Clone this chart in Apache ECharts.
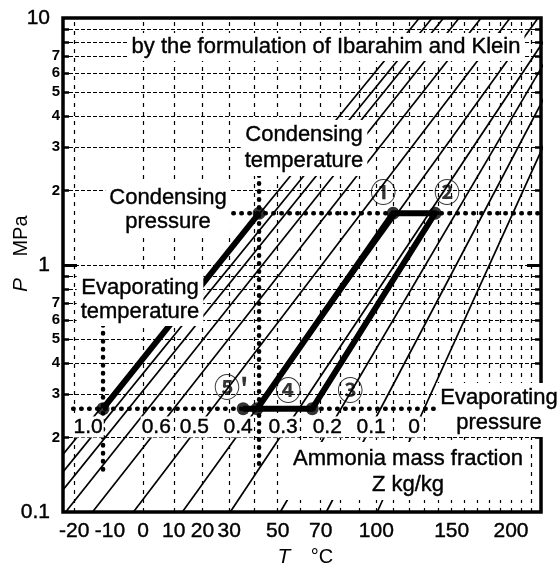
<!DOCTYPE html>
<html><head><meta charset="utf-8">
<script src="https://cdn.jsdelivr.net/npm/echarts@6/dist/echarts.min.js"></script>
<style>html,body{margin:0;padding:0;background:#fff}#c{width:560px;height:569px}</style>
</head><body><div id="c"></div>
<script>
// ---------- data ----------
const zFractions   = [1.0, 0.9, 0.8, 0.7, 0.6, 0.5, 0.4, 0.3, 0.2, 0.1, 0];
const zTempAtLowP  = [-34.8, -31.3, -27.6, -22.3, -15.0, -3.0, 12.9, 30.4, 51.1, 72.8, 100.5]; // °C at 0.1 MPa
const zTempAtHighP = [127.0, 135.8, 144.0, 155.7, 173.4, 199.1, 226.9, 250.0, 263.7, 283.0, 303.9]; // °C at 10 MPa
const isostereLowP = 0.1, isostereHighP = 10;

const zLabelText  = ['1.0', '0.6', '0.5', '0.4', '0.3', '0.2', '0.1', '0'];
const zLabelTemps = [-16.2, 4.2, 17.1, 33.5, 52.4, 73.3, 97.0, 123.5];
const zLabelP = 0.221;

const tempTickLabels = [-20, -10, 0, 10, 20, 30, 50, 70, 100, 150, 200];
const tempGridLines  = [-20, 0, 10, 20, 30, 40, 50, 60, 70, 80, 90, 100, 110, 120, 130, 140, 150, 160, 170, 180, 190, 200, 210, 220];
const pressureLabels = [0.1, 0.2, 0.3, 0.4, 0.5, 0.6, 0.7, 1, 2, 3, 4, 5, 6, 7, 10];
const pressureMinor  = [0.2, 0.3, 0.4, 0.5, 0.6, 0.7, 0.8, 0.9, 2, 3, 4, 5, 6, 7, 8, 9];
const pressureGrid   = [0.2, 0.3, 0.4, 0.5, 0.6, 0.7, 0.8, 0.9, 1, 2, 3, 4, 5, 6, 7, 8, 9];

const evapT = -12, condT = 42, evapP = 0.262, condP = 1.62;
const cycleNames = ["⑤'", '④', '③', '①', '②'];
const cycleT     = [35.5, 41.2, 65.9, 110.1, 137.9];
const cycleP     = [evapP, evapP, evapP, condP, condP];

const condPressureSpanT = [31.6, 230];
const evapPressureSpanT = [-20.3, 139.3];
const condTempSpanP     = [2.31, 0.148];
const evapTempSpanP     = [0.571, 0.148];

const tMin = -23, tMax = 230;

// ---------- helpers ----------
const xOf = t => -1000 / (t + 273.15);
const FONT = '"Liberation Sans", Arial, sans-serif';
const xMin = xOf(tMin), xMax = xOf(tMax);
const INK = { textBorderColor: '#000', textBorderWidth: 0.4 };

const series = [];
series.push({
  type: 'lines', coordinateSystem: 'cartesian2d', silent: true, z: 1,
  lineStyle: { color: '#000', width: 1.2, type: [4, 5], opacity: 1 },
  data: tempGridLines.map(t => ({ coords: [[xOf(t), 0.1], [xOf(t), 10]] }))
});
series.push({
  type: 'lines', coordinateSystem: 'cartesian2d', silent: true, z: 1,
  lineStyle: { color: '#000', width: 1.2, type: [4, 2], opacity: 1 },
  data: pressureGrid.map(p => ({ coords: [[xMin, p], [xMax, p]] }))
});
zFractions.forEach((z, i) => {
  series.push({
    type: 'line', silent: true, z: 3, symbol: 'none', clip: true, animation: false,
    lineStyle: { color: '#000', width: 1.7 },
    data: [[xOf(zTempAtLowP[i]), isostereLowP], [xOf(zTempAtHighP[i]), isostereHighP]]
  });
});
const dotted = { color: '#000', width: 4.5, type: [0.5, 7.5], cap: 'round' };
series.push({ type: 'line', symbol: 'none', z: 4, silent: true, lineStyle: dotted,
  data: condPressureSpanT.map(t => [xOf(t), condP]) });
series.push({ type: 'line', symbol: 'none', z: 4, silent: true, lineStyle: dotted,
  data: evapPressureSpanT.map(t => [xOf(t), evapP]) });
series.push({ type: 'line', symbol: 'none', z: 4, silent: true, lineStyle: dotted,
  data: condTempSpanP.map(p => [xOf(condT), p]) });
series.push({ type: 'line', symbol: 'none', z: 4, silent: true, lineStyle: dotted,
  data: evapTempSpanP.map(p => [xOf(evapT), p]) });
// refrigerant (thick)
series.push({ type: 'line', symbol: 'none', z: 5, silent: true,
  lineStyle: { color: '#000', width: 6 },
  data: [[xOf(evapT), evapP], [xOf(condT), condP]] });
// solution cycle (thick): ④ → ① → ② → ③ → ⑤'
const cycleOrder = [1, 3, 4, 2, 0];
series.push({ type: 'line', symbol: 'none', z: 5, silent: true,
  lineStyle: { color: '#000', width: 6, join: 'round' },
  data: cycleOrder.map(k => [xOf(cycleT[k]), cycleP[k]]) });
// state points
const cycleOffsets = [[-12, -22], [31, -19], [38, -19], [-10, -21], [12, -21]];
series.push({ type: 'scatter', z: 6, silent: true, symbolSize: 13,
  itemStyle: { color: '#000' },
  data: [
    { value: [xOf(evapT), evapP] },
    { value: [xOf(condT), condP] },
    ...cycleT.map((t, k) => ({
      value: [xOf(t), cycleP[k]],
      label: { show: true, position: 'inside', offset: cycleOffsets[k], formatter: cycleNames[k],
        fontFamily: '"Noto Sans CJK JP", sans-serif', fontWeight: 'bold', fontSize: 26, color: '#000' }
    }))
  ] });
// Z labels
series.push({ type: 'scatter', z: 8, silent: true, symbol: 'circle', symbolSize: 2,
  itemStyle: { color: 'rgba(255,255,255,0)' },
  labelLayout: { hideOverlap: false },
  data: zLabelTemps.map((t, k) => ({ value: [xOf(t), zLabelP],
    label: Object.assign({ show: true, position: 'inside', formatter: zLabelText[k], fontFamily: FONT, fontSize: 21,
      color: '#000', backgroundColor: '#fff', padding: [0, 1], opacity: 1 }, INK) })) });

function pLabel(v) {
  if (Math.abs(v - 0.1) < 1e-9 || Math.abs(v - 1) < 1e-9 || Math.abs(v - 10) < 1e-9) {
    return '{b|' + (v < 1 ? '0.1' : String(Math.round(v))) + '}';
  }
  const d = Math.round(v / Math.pow(10, Math.floor(Math.log10(v) + 1e-9)));
  return '{s|' + d + '}';
}

const ann = (text, x, y, lh, bg) => ({
  type: 'text', x, y, z: 60, silent: true,
  style: { text, font: '22px ' + FONT, fill: '#000', stroke: '#000', lineWidth: 0.4,
    align: 'center', verticalAlign: 'middle',
    textAlign: 'center', textVerticalAlign: 'middle', lineHeight: lh,
    backgroundColor: bg ? '#fff' : null, padding: bg ? [2, 4] : 0 }
});

const chart = echarts.init(document.getElementById('c'), null, { renderer: 'canvas' });
chart.setOption({
  animation: false,
  backgroundColor: '#fff',
  grid: { left: 63, top: 18, width: 478, height: 494, show: true, borderColor: '#000', borderWidth: 3.5,
    backgroundColor: 'transparent', containLabel: false },
  xAxis: {
    type: 'value', min: xMin, max: xMax,
    axisLine: { show: false }, axisTick: { show: false }, splitLine: { show: false },
    axisLabel: Object.assign({ customValues: tempTickLabels.map(xOf), hideOverlap: false,
      formatter: v => String(Math.round(-1000 / v - 273.15)),
      fontFamily: FONT, fontSize: 21, color: '#000', margin: 9 }, INK)
  },
  yAxis: [
    { type: 'log', logBase: 10, min: 0.1, max: 10, position: 'left',
      axisLine: { show: false }, splitLine: { show: false }, minorSplitLine: { show: false },
      axisTick: { show: true, inside: true, customValues: pressureMinor, length: 6, lineStyle: { color: '#000', width: 2.5 } },
      axisLabel: { customValues: pressureLabels, formatter: pLabel, margin: 3, hideOverlap: false,
        rich: { b: Object.assign({ fontFamily: FONT, fontSize: 21, color: '#000', padding: [0, 10, 0, 0] }, INK),
                s: { fontFamily: FONT, fontSize: 15, fontWeight: 'bold', color: '#000' } } } },
    { type: 'log', logBase: 10, min: 0.1, max: 10, position: 'right',
      axisLine: { show: false }, splitLine: { show: false }, axisLabel: { show: false },
      axisTick: { show: true, inside: true, customValues: pressureMinor, length: 6, lineStyle: { color: '#000', width: 2.5 } } },
    { type: 'log', logBase: 10, min: 0.1, max: 10, position: 'left',
      axisLine: { show: false }, splitLine: { show: false }, axisLabel: { show: false },
      axisTick: { show: true, inside: true, customValues: [1], length: 14, lineStyle: { color: '#000', width: 3 } } },
    { type: 'log', logBase: 10, min: 0.1, max: 10, position: 'right',
      axisLine: { show: false }, splitLine: { show: false }, axisLabel: { show: false },
      axisTick: { show: true, inside: true, customValues: [1], length: 14, lineStyle: { color: '#000', width: 3 } } }
  ],
  series,
  graphic: [
    { type: 'rect', z: 50, silent: true, shape: { x: 283, y: 442, width: 247, height: 58 }, style: { fill: '#fff' } },
    ann('Ammonia mass fraction\nZ kg/kg', 408, 472, 26, false),
    ann('by the formulation of Ibarahim and Klein', 326, 47, 24, true),
    ann('Condensing\ntemperature', 304, 148, 26, true),
    ann('Condensing\npressure', 168, 210, 24, true),
    ann('Evaporating\ntemperature', 140, 300, 24, true),
    ann('Evaporating\npressure', 499, 410, 25, true),
    { type: 'text', x: 284, y: 557, z: 60, style: { text: 'T', font: 'italic 21px ' + FONT, fill: '#000',
        align: 'center', verticalAlign: 'middle', textAlign: 'center', textVerticalAlign: 'middle' } },
    { type: 'text', x: 322, y: 557, z: 60, style: { text: '°C', font: '20px ' + FONT, fill: '#000',
        align: 'center', verticalAlign: 'middle', textAlign: 'center', textVerticalAlign: 'middle' } },
    { type: 'text', x: 21, y: 285, rotation: Math.PI / 2, z: 60, style: { text: 'P', font: 'italic 21px ' + FONT, fill: '#000',
        align: 'center', verticalAlign: 'middle', textAlign: 'center', textVerticalAlign: 'middle' } },
    { type: 'text', x: 21, y: 236, rotation: Math.PI / 2, z: 60, style: { text: 'MPa', font: '20px ' + FONT, fill: '#000',
        align: 'center', verticalAlign: 'middle', textAlign: 'center', textVerticalAlign: 'middle' } }
  ]
});
</script>
</body></html>
